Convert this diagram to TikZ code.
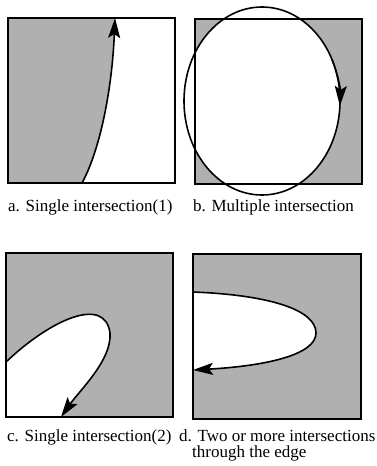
\documentclass[tikz,border=0pt]{standalone}
\usepackage{fontspec}
\setmainfont{Liberation Serif}
\usetikzlibrary{arrows.meta}
\definecolor{ixShade}{HTML}{B0B0B0}
\tikzset{
  ixbox/.style={draw=black, line width=1.6pt},
  ixcurve/.style={draw=black, line width=1.6pt},
  ixarrow/.style={ixcurve, -{Stealth[length=20pt,width=12pt,inset=4pt]}},
  ixcap/.style={anchor=base west, inner sep=0pt, align=left,
                font=\fontsize{17}{16}\selectfont},
}

\begin{document}
\begin{tikzpicture}[x=1pt,y=-1pt]
\useasboundingbox (0,0) rectangle (376,466);

% a. single intersection (1)
\fill[ixShade] (8,18) -- (115,18) .. controls (112,90) and (100,150) .. (82,183) -- (8,183) -- cycle;
\draw[ixbox] (8,18) rectangle (175,183);
\draw[ixarrow] (82,183) .. controls (100,150) and (112,90) .. (115,18);
\node[ixcap] (capa) at (8,211) {a. Single intersection(1)};

% b. multiple intersection
\fill[ixShade] (195,19) rectangle (362,184);
\fill[white] (262,101) ellipse [x radius=78, y radius=94];
\draw[ixbox] (195,19) rectangle (362,184);
\draw[ixcurve] (262,101) ellipse [x radius=78, y radius=94];
\draw[ixarrow] (262,101) ++(-26:78 and 94) arc[start angle=-26, end angle=3, x radius=78, y radius=94];
\node[ixcap] (capb) at (193,211) {b. Multiple intersection};

% c. single intersection (2)
\fill[ixShade] (6,253) rectangle (173,417);
\fill[white] (6,362) .. controls (50,320) and (105,295) .. (110,333)
  .. controls (112,360) and (80,390) .. (61,417) -- (6,417) -- cycle;
\draw[ixbox] (6,253) rectangle (173,417);
\draw[ixarrow] (6,362) .. controls (50,320) and (105,295) .. (110,333)
  .. controls (112,360) and (80,390) .. (61,417);
\node[ixcap] (capc) at (7,441) {c. Single intersection(2)};

% d. two or more intersections
\fill[ixShade] (193,254) rectangle (361,419);
\fill[white] (193,292) .. controls (270,295) and (316,310) .. (316,333)
  .. controls (316,355) and (265,366) .. (193,370) -- cycle;
\draw[ixbox] (193,254) rectangle (361,419);
\draw[ixarrow] (193,292) .. controls (270,295) and (316,310) .. (316,333)
  .. controls (316,355) and (265,366) .. (193,370);
\node[ixcap] (capd) at (179,457) {d. Two or more intersections\\\hspace*{13pt}through the edge};
\end{tikzpicture}
\end{document}
